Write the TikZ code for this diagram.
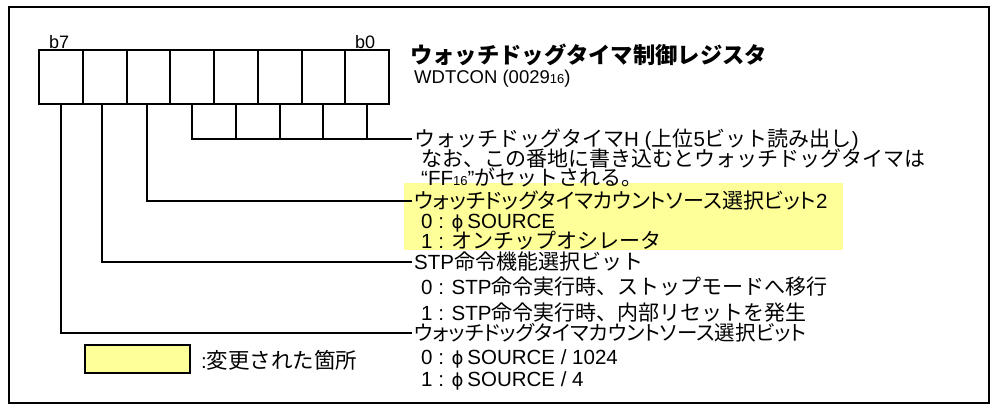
\documentclass[tikz,border=0pt]{standalone}
\usepackage{fontspec}
\setmainfont{Liberation Sans}
\newfontfamily\jpf{Noto Sans CJK JP}
\newfontfamily\jpp[RawFeature=+palt]{Noto Sans CJK JP}
\newfontfamily\symf{DejaVu Sans}
\definecolor{hly}{HTML}{FFFF99}
\newcommand\jt[1]{{\jpf\fontsize{21}{20}\selectfont #1}}
\newcommand\jpr[1]{{\jpp\fontsize{21}{20}\selectfont #1}}
\newcommand\phisym{{\symf\fontsize{18}{20}\selectfont ϕ}}
\newcommand\smallsub[1]{{\fontsize{13}{13}\selectfont #1}}
\tikzset{
  cell/.style={draw, line width=2pt, minimum width=43.75pt, minimum height=54pt, inner sep=0pt},
  conn/.style={line width=2pt},
  txt/.style={anchor=west, inner xsep=2pt, inner ysep=0pt, text height=15pt, text depth=0pt, font=\fontsize{20.5}{20}\selectfont},
}
\begin{document}
\begin{tikzpicture}[x=1pt,y=-1pt]
\useasboundingbox (0,0) rectangle (991,405);
\draw[line width=2pt] (9,7) rectangle (989,403);
\fill[hly] (404,183) rectangle (843,250);
% register cells
\foreach \i in {0,...,7} \node[cell] (c\i) at ({39+43.75*(7-\i)+21.875},77) {};
\node[anchor=base west, inner sep=0pt, font=\fontsize{18}{18}\selectfont] (b7) at (49,48) {b7};
\node[anchor=base west, inner sep=0pt, font=\fontsize{18}{18}\selectfont] (b0) at (355,48) {b0};
% title
\node[anchor=west, inner xsep=2pt, inner ysep=0pt, text height=19pt, text depth=1pt] (title) at (408,54)
  {{\jpf\bfseries\fontsize{22.3}{22}\selectfont ウォッチドッグタイマ制御レジスタ}};
\node[anchor=west, inner xsep=2pt, inner ysep=0pt, text height=13pt, text depth=0pt, font=\fontsize{18.5}{18}\selectfont] (reg) at (412,77)
  {WDTCON (0029\smallsub{16})};
% descriptions
\node[txt] (t1) at (412,138.5) {\jt{ウォッチドッグタイマ}H (\jt{上位}5\jt{ビット読み出し})};
\node[txt] (t2) at (419,159) {\jt{なお、この番地に書き込むとウォッチドッグタイマは}};
\node[txt] (t3) at (419,178) {“FF\smallsub{16}”\jt{がセットされる。}};
\node[txt] (t4) at (412,200.5) {\jpr{ウォッチドッグタイマカウントソース選択ビット}2};
\node[txt] (t5) at (419,221) {0 : \phisym\hspace{4pt}SOURCE};
\node[txt] (t6) at (419,241) {1 : \jt{オンチップオシレータ}};
\node[txt] (t7) at (412,262) {STP\jt{命令機能選択ビット}};
\node[txt] (t8) at (419,287) {0 : STP\jt{命令実行時、ストップモードへ移行}};
\node[txt] (t9) at (419,313) {1 : STP\jt{命令実行時、内部リセットを発生}};
\node[txt] (t10) at (412,333) {{\jpp\fontsize{20.5}{20}\selectfont ウォッチドッグタイマカウントソース選択ビット}};
\node[txt] (t11) at (419,357) {0 : \phisym\hspace{4pt}SOURCE / 1024};
\node[txt] (t12) at (419,379) {1 : \phisym\hspace{4pt}SOURCE / 4};
% connectors
\draw[conn] (c4.south) |- (t1.west);
\foreach \i in {3,2,1,0} \draw[conn] (c\i.south) -- (c\i.south |- t1.west);
\draw[conn] ([xshift=-1pt]c5.south) |- (t4.west);
\draw[conn] ([xshift=-3pt]c6.south) |- (t7.west);
\draw[conn] (c7.south) |- (t10.west);
% legend
\node[draw, fill=hly, line width=1.5pt, minimum width=105pt, minimum height=28pt, inner sep=0pt] (leg) at (137.5,359) {};
\node[txt] (legtxt) at (199,361) {:{\jpf\fontsize{21.5}{20}\selectfont 変更された箇所}};
\end{tikzpicture}
\end{document}
